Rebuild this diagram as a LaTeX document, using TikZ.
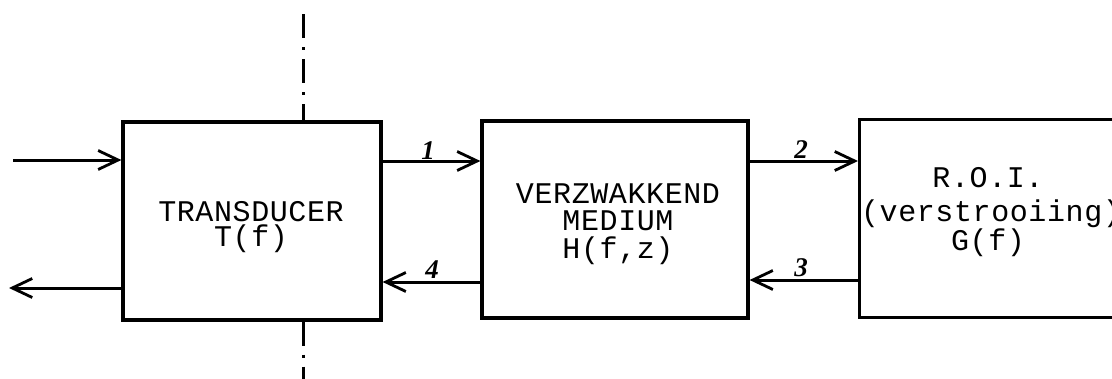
\documentclass[tikz,border=0pt]{standalone}
\usepackage{fontspec}
\setmonofont{Liberation Mono}
\newfontfamily\numfont{Liberation Serif}
\usetikzlibrary{arrows.meta}
\begin{document}
\begin{tikzpicture}[x=1pt,y=-1pt,
  line width=3pt,
  blockbox/.style={draw,line width=3.2pt,inner sep=0pt},
  txt/.style={font=\ttfamily\fontsize{30}{33}\selectfont\addfontfeature{LetterSpace=2},inner sep=0pt,anchor=base},
  sig/.style={line width=3pt,-{Straight Barb[length=20pt,width=19pt,line width=2.8pt]}},
  numlab/.style={font=\numfont\bfseries\itshape\fontsize{27}{28}\selectfont,inner sep=0pt},
  axis/.style={line width=3pt,dash pattern=on 24pt off 9pt on 3pt off 9pt}]
\useasboundingbox (0,0) rectangle (1112,378);
\clip (0,0) rectangle (1112,378);
% blocks
\node[blockbox,minimum width=258pt,minimum height=198pt] (trans) at (252,221) {};
\node[blockbox,minimum width=266pt,minimum height=197pt] (med) at (615,219.5) {};
\node[blockbox,minimum width=290pt,minimum height=198pt,anchor=north west] (roi) at (858,118) {};
% texts (base lines)
\node[txt] (t1) at (251,221) {TRANSDUCER};
\node[txt] (t2) at (251,246) {T(f)};
\node[txt] (m1) at (618,203) {VERZWAKKEND};
\node[txt] (m2) at (618,230) {MEDIUM};
\node[txt] (m3) at (618,258) {H(f,z)};
\node[txt] (r1) at (988,187) {R.O.I.};
\node[txt] (r2) at (991,221) {(verstrooiing)};
\node[txt] (r3) at (988,250) {G(f)};
% external ends
\coordinate (inL) at (13,160);
\coordinate (outL) at (9,288);
\coordinate (axT) at (303,14);
\coordinate (axB) at (303,395);
% connectors
\draw[sig] (inL) -- (inL -| trans.west);
\draw[sig] (trans.west |- outL) -- (outL);
\draw[sig] (trans.east |- 0,161) -- (med.west |- 0,161);
\draw[sig] (med.west |- 0,282) -- (trans.east |- 0,282);
\draw[sig] (med.east |- 0,161) -- (roi.west |- 0,161);
\draw[sig] (roi.west |- 0,280) -- (med.east |- 0,280);
\draw[axis] (axT) -- (axT |- trans.north);
\draw[axis] (axT |- trans.south) -- (axB);
% labels
\node[numlab] (n1) at (428,151) {1};
\node[numlab] (n4) at (432,270) {4};
\node[numlab] (n2) at (801,150) {2};
\node[numlab] (n3) at (801,268) {3};
\end{tikzpicture}
\end{document}
